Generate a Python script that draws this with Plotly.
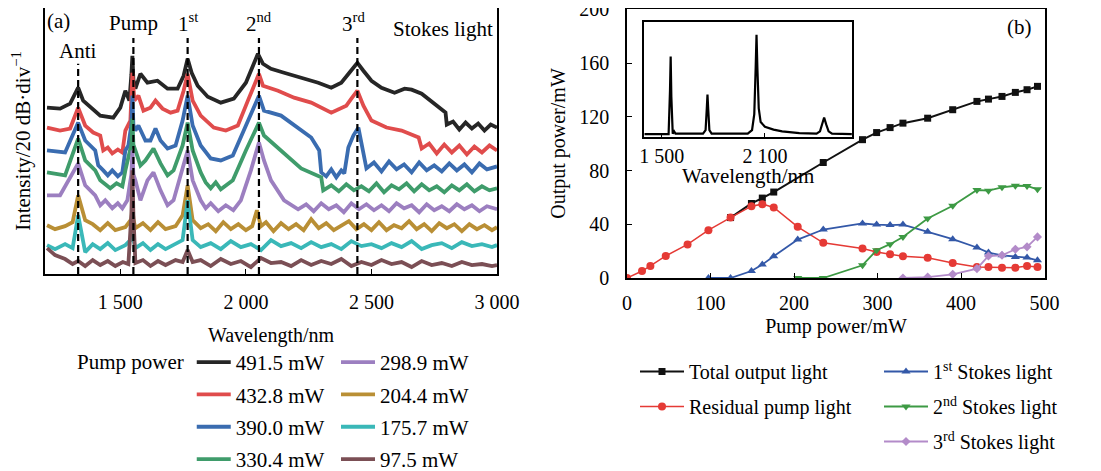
import plotly.graph_objects as go

FONT = "Liberation Serif"

# ---------------- Panel (a): spectra, (wavelength nm, offset intensity a.u.) ----------------
sp_4915 = [(1208,167),(1260,166),(1300,171),(1332,187),(1352,174),(1380,168),(1420,159),(1472,157),(1500,167),(1520,184),(1536,174),(1544,200),(1548,219),(1552,195),(1560,186),(1580,201),(1608,192),(1648,194),(1688,186),(1728,186),(1752,199),(1768,216),(1784,202),(1808,189),(1848,178),(1900,172),(1952,176),(2000,192),(2028,209),(2048,221),(2068,211),(2100,206),(2152,202),(2220,197),(2288,192),(2340,187),(2380,192),(2412,202),(2444,212),(2468,204),(2500,194),(2540,187),(2592,182),(2632,186),(2660,185),(2700,181),(2752,171),(2795,162),(2800,150),(2825,153),(2850,145),(2875,152),(2900,146),(2925,151),(2950,144),(2975,150),(3000,147)]

sp_4328 = [(1208,147),(1260,144),(1300,146),(1332,167),(1360,149),(1392,142),(1420,139),(1432,124),(1450,127),(1468,121),(1490,125),(1508,122),(1520,144),(1540,154),(1548,202),(1556,174),(1572,179),(1592,164),(1620,167),(1640,174),(1668,166),(1700,162),(1728,164),(1752,184),(1768,201),(1788,174),(1820,159),(1872,147),(1920,144),(1968,149),(2008,174),(2032,189),(2052,201),(2068,189),(2128,184),(2192,177),(2260,172),(2340,162),(2400,169),(2420,176),(2444,184),(2468,169),(2500,154),(2560,147),(2620,144),(2688,137),(2700,126),(2730,131),(2760,121),(2790,130),(2820,122),(2850,129),(2880,120),(2910,128),(2940,122),(2970,129),(3000,124)]

sp_3900 = [(1208,124),(1280,122),(1332,152),(1360,134),(1400,124),(1412,109),(1432,104),(1450,99),(1468,104),(1490,98),(1508,102),(1520,124),(1532,129),(1544,150),(1548,179),(1552,150),(1560,144),(1572,149),(1600,134),(1620,134),(1640,146),(1660,134),(1688,126),(1720,129),(1748,154),(1768,179),(1788,149),(1820,129),(1860,116),(1900,114),(1948,119),(2000,149),(2028,164),(2052,179),(2072,164),(2140,159),(2260,137),(2292,124),(2300,102),(2320,98),(2340,105),(2360,97),(2380,104),(2392,101),(2408,127),(2428,139),(2448,147),(2468,124),(2480,106),(2510,112),(2540,103),(2570,113),(2600,105),(2630,110),(2660,102),(2690,112),(2720,104),(2750,109),(2780,103),(2810,111),(2840,104),(2870,110),(2900,102),(2930,111),(2960,105),(3000,108)]

sp_3304 = [(1208,102),(1280,99),(1332,136),(1360,114),(1400,104),(1420,94),(1440,90),(1460,86),(1485,91),(1508,88),(1520,104),(1544,130),(1548,156),(1552,130),(1560,124),(1580,109),(1600,114),(1632,126),(1660,111),(1688,99),(1712,104),(1748,129),(1768,152),(1788,124),(1820,102),(1840,92),(1860,86),(1880,92),(1900,85),(1948,94),(2000,124),(2028,139),(2052,152),(2072,139),(2140,124),(2220,106),(2300,97),(2308,84),(2340,89),(2370,83),(2400,90),(2430,84),(2460,88),(2490,83),(2520,91),(2550,82),(2580,89),(2610,85),(2640,91),(2670,83),(2700,90),(2730,84),(2760,88),(2790,82),(2820,89),(2850,84),(2880,90),(2910,83),(2940,88),(2970,84),(3000,86)]

sp_2989 = [(1208,79),(1260,79),(1332,111),(1360,89),(1400,79),(1420,69),(1440,74),(1468,66),(1490,71),(1508,66),(1528,74),(1544,100),(1548,124),(1552,100),(1560,94),(1580,74),(1608,94),(1632,102),(1660,84),(1688,69),(1712,74),(1740,99),(1768,124),(1788,94),(1820,74),(1840,66),(1860,71),(1890,63),(1920,69),(1950,64),(1980,74),(2020,104),(2052,132),(2072,114),(2100,94),(2152,74),(2180,70),(2208,65),(2240,70),(2270,63),(2300,71),(2330,65),(2360,69),(2390,62),(2420,71),(2450,65),(2480,70),(2510,64),(2540,69),(2570,63),(2600,71),(2630,66),(2660,69),(2690,62),(2720,70),(2750,64),(2780,68),(2810,63),(2840,70),(2870,65),(2900,69),(2930,63),(2960,68),(3000,65)]

sp_2044 = [(1208,49),(1240,45),(1280,48),(1310,52),(1332,79),(1360,54),(1390,50),(1420,44),(1450,51),(1480,44),(1520,47),(1544,55),(1548,69),(1552,55),(1560,46),(1590,51),(1620,44),(1650,52),(1680,45),(1720,48),(1748,59),(1768,89),(1788,54),(1820,46),(1850,50),(1880,43),(1910,52),(1940,45),(1970,50),(2000,44),(2025,48),(2044,64),(2060,48),(2080,52),(2110,43),(2140,51),(2170,45),(2200,50),(2230,44),(2260,55),(2290,46),(2320,51),(2350,44),(2380,48),(2410,53),(2440,45),(2470,50),(2500,44),(2530,52),(2560,44),(2590,49),(2620,46),(2650,53),(2680,45),(2710,50),(2740,43),(2770,51),(2800,46),(2830,50),(2860,43),(2890,50),(2920,45),(2950,49),(2980,44),(3000,47)]

sp_1757 = [(1208,29),(1240,25),(1280,30),(1310,26),(1332,59),(1348,39),(1360,22),(1390,30),(1420,25),(1450,31),(1480,24),(1520,29),(1544,35),(1548,49),(1552,35),(1560,26),(1590,31),(1620,24),(1650,30),(1680,25),(1720,30),(1748,34),(1768,74),(1788,34),(1820,27),(1860,31),(1900,25),(1940,33),(1980,27),(2020,30),(2060,24),(2100,34),(2140,28),(2180,31),(2220,26),(2260,32),(2300,27),(2340,30),(2380,25),(2420,33),(2460,28),(2500,30),(2540,26),(2580,31),(2620,27),(2660,33),(2700,25),(2740,29),(2780,31),(2820,26),(2860,32),(2900,28),(2940,30),(2980,27),(3000,29)]

sp_975 = [(1208,26),(1240,19),(1280,15),(1310,10),(1332,13),(1360,8),(1390,14),(1420,9),(1450,13),(1480,8),(1510,12),(1532,10),(1544,60),(1548,104),(1552,60),(1560,11),(1590,14),(1620,8),(1650,13),(1680,9),(1720,14),(1748,12),(1768,24),(1788,12),(1820,14),(1860,8),(1900,15),(1940,10),(1980,13),(2020,7),(2060,16),(2100,11),(2140,12),(2180,8),(2220,14),(2260,9),(2300,13),(2340,10),(2380,15),(2420,8),(2460,12),(2500,9),(2540,14),(2580,10),(2620,12),(2660,7),(2700,13),(2740,9),(2780,11),(2820,8),(2860,12),(2900,9),(2940,10),(2980,8),(3000,9)]

spectra_labels = ["491.5 mW", "432.8 mW", "390.0 mW", "330.4 mW",
                  "298.9 mW", "204.4 mW", "175.7 mW", "97.5 mW"]
spectra_colors = ["#262626", "#e04c4c", "#3a6cb0", "#3f9c6b",
                  "#9c7fc0", "#b98f35", "#3ab8b8", "#7b4f55"]
spectra = [sp_4915, sp_4328, sp_3900, sp_3304, sp_2989, sp_2044, sp_1757, sp_975]

# marker lines (nm) and their top heights
line_wl = [1332, 1552, 1768, 2052, 2444]
line_top = [211, 237, 237, 237, 237]

# ---------------- Panel (b): output powers vs pump power ----------------
pump_total = [124, 149, 162, 175.7, 235, 282, 298.9, 315, 330.4, 360, 390.0, 419, 432.8, 449, 465, 479, 491.5]
total_out = [45, 55.5, 59.5, 64, 86, 103, 108.3, 112, 115.3, 119, 125.3, 131.5, 133.2, 135.2, 138.2, 140.2, 142.7]

pump_res = [0, 18, 28, 46.4, 72.5, 97.5, 124, 149, 162, 175.7, 204.4, 235, 282, 298.9, 315, 330.4, 360, 390.0, 419, 432.8, 449, 465, 479, 491.5]
residual = [0, 5.2, 9, 16.4, 25, 35.6, 45, 53.5, 55, 52.5, 38.1, 26.2, 22, 19.4, 17.7, 16.2, 15, 11.2, 8.2, 8.2, 7.7, 7.7, 9, 8.2]

pump_s1 = [97.5, 124, 149, 162, 175.7, 204.4, 235, 282, 298.9, 315, 330.4, 360, 390.0, 419, 432.8, 449, 465, 479, 491.5]
stokes1 = [0, 0, 5.2, 10, 16.2, 28.6, 36.1, 40.6, 39.8, 39.4, 39.8, 34.4, 28.9, 22.7, 18.9, 16.9, 15.7, 15.2, 13.2]

pump_s2 = [204.4, 235, 282, 298.9, 315, 330.4, 360, 390.0, 419, 432.8, 449, 465, 479, 491.5]
stokes2 = [0, 0, 9.5, 20.7, 25.2, 30.6, 44.3, 53.8, 65.5, 65, 67.5, 68.7, 68.5, 66]

pump_s3 = [330.4, 360, 390.0, 419, 432.8, 449, 465, 479, 491.5]
stokes3 = [0, 0.7, 2.7, 7, 16.4, 16.9, 21.4, 23.2, 30.6]

# inset spectrum (normalised)
inset_wl = [1400, 1540, 1548, 1552, 1556, 1564, 1572, 1580, 1740, 1755, 1762, 1766, 1770, 1777, 1790, 2000, 2025, 2038, 2046, 2051, 2056, 2064, 2075, 2100, 2150, 2200, 2300, 2400, 2420, 2432, 2444, 2456, 2470, 2490, 2605]
inset_int = [0.025, 0.025, 0.40, 0.70, 0.35, 0.03, 0.05, 0.03, 0.03, 0.06, 0.25, 0.37, 0.25, 0.06, 0.03, 0.03, 0.06, 0.20, 0.6, 0.89, 0.6, 0.25, 0.13, 0.09, 0.065, 0.05, 0.035, 0.03, 0.05, 0.11, 0.17, 0.11, 0.05, 0.03, 0.025]

fig = go.Figure()

for i, (lab, col, sp) in enumerate(zip(spectra_labels, spectra_colors, spectra)):
    xw = [p[0] for p in sp]
    yi = [p[1] for p in sp]
    fig.add_trace(go.Scatter(
        x=xw, y=yi, mode="lines", name=lab,
        line=dict(color=col, width=3.8),
        legend="legend" if i < 4 else "legend2", legendgroup=lab,
        xaxis="x", yaxis="y"))

for xv, top in zip(line_wl, line_top):
    fig.add_trace(go.Scatter(
        x=[xv, xv], y=[0, top], mode="lines", showlegend=False,
        line=dict(color="black", width=2.2, dash="7px,4px"),
        xaxis="x", yaxis="y"))

series_b = [
    ("Total output light", pump_total, total_out, "#111111", "square", 7, 2.0, "legend3"),
    ("Residual pump light", pump_res, residual, "#e53a35", "circle", 8, 1.5, "legend3"),
    ("1<sup>st</sup> Stokes light", pump_s1, stokes1, "#3358a8", "triangle-up", 8, 1.8, "legend4"),
    ("2<sup>nd</sup> Stokes light", pump_s2, stokes2, "#3d9a44", "triangle-down", 8, 1.8, "legend4"),
    ("3<sup>rd</sup> Stokes light", pump_s3, stokes3, "#b38bc9", "diamond", 7, 1.8, "legend4"),
]
for name, xs, ys, col, sym, msz, lw, lg in series_b:
    fig.add_trace(go.Scatter(
        x=xs, y=ys, mode="lines+markers", name=name,
        line=dict(color=col, width=lw),
        marker=dict(symbol=sym, size=msz, color=col),
        legend=lg, legendgroup=name, xaxis="x2", yaxis="y2"))

fig.add_trace(go.Scatter(
    x=inset_wl, y=inset_int, mode="lines", showlegend=False,
    line=dict(color="black", width=2.2), xaxis="x3", yaxis="y3"))

axis_common = dict(showline=True, mirror=True, linecolor="black", linewidth=1.5,
                   showgrid=False, zeroline=False, color="black", automargin=False,
                   ticklabeloverflow="allow")

fig.update_layout(
    width=1101, height=471,
    margin=dict(l=37, r=64, t=0, b=201, autoexpand=False),
    paper_bgcolor="white", plot_bgcolor="white",
    font=dict(family=FONT, size=20, color="black"),
    xaxis=dict(domain=[0, 0.452], range=[1200, 3000], anchor="y",
               tickvals=[1500, 2000, 2500, 3000],
               ticktext=["1 500", "2 000", "2 500", "3 000"],
               ticks="inside", ticklen=5, ticklabelstandoff=9,
               tickfont=dict(size=20),
               title=dict(text="Wavelength/nm", standoff=16, font=dict(size=20)),
               **axis_common),
    yaxis=dict(domain=[0.0148, 1], range=[0, 267], anchor="x",
               showticklabels=False, ticks="",
               title=dict(text="Intensity/20 dB·div<sup>−1</sup>", standoff=8, font=dict(size=21)),
               **axis_common),
    xaxis2=dict(domain=[0.582, 1.0], range=[0, 500.5], anchor="y2",
                tickvals=[0, 100, 200, 300, 400, 500],
                ticks="inside", ticklen=5, ticklabelstandoff=6,
                tickfont=dict(size=20),
                title=dict(text="Pump power/mW", standoff=6, font=dict(size=20)),
                **axis_common),
    yaxis2=dict(domain=[0, 0.9963], range=[0, 200.3], anchor="x2",
                tickvals=[0, 40, 80, 120, 160, 200],
                ticks="inside", ticklen=5, ticklabelstandoff=12,
                tickfont=dict(size=20),
                title=dict(text="Output power/mW", standoff=8, font=dict(size=20)),
                **axis_common),
    xaxis3=dict(domain=[0.599, 0.807], range=[1397, 2606], anchor="y3",
                tickvals=[1500, 2100], ticktext=["1 500", "2 100"],
                ticks="inside", ticklen=4, ticklabelstandoff=0,
                tickfont=dict(size=20),
                **axis_common),
    yaxis3=dict(domain=[0.522, 0.948], range=[0, 1], anchor="x3",
                showticklabels=False, ticks="", **axis_common),
    legend=dict(x=0.03, xanchor="left", y=-0.237, yanchor="top",
                title=dict(text="Pump power", side="left", font=dict(size=21)),
                font=dict(size=21), traceorder="grouped", tracegroupgap=2,
                itemwidth=34, bgcolor="rgba(0,0,0,0)"),
    legend2=dict(x=0.291, xanchor="left", y=-0.237, yanchor="top",
                 font=dict(size=21), traceorder="grouped", tracegroupgap=2,
                 itemwidth=34, bgcolor="rgba(0,0,0,0)"),
    legend3=dict(x=0.590, xanchor="left", y=-0.274, yanchor="top",
                 font=dict(size=20), traceorder="grouped", tracegroupgap=6,
                 itemwidth=44, bgcolor="rgba(0,0,0,0)"),
    legend4=dict(x=0.834, xanchor="left", y=-0.274, yanchor="top",
                 font=dict(size=20), traceorder="grouped", tracegroupgap=6,
                 itemwidth=44, bgcolor="rgba(0,0,0,0)"),
    showlegend=True,
)

ann = [
    dict(text="(a)", x=1252, y=254, xref="x", yref="y", xanchor="center"),
    dict(text="Anti", x=1332, y=224, xref="x", yref="y", xanchor="center"),
    dict(text="Pump", x=1552, y=252, xref="x", yref="y", xanchor="center"),
    dict(text="1<sup>st</sup>", x=1768, y=252, xref="x", yref="y", xanchor="center"),
    dict(text="2<sup>nd</sup>", x=2052, y=252, xref="x", yref="y", xanchor="center"),
    dict(text="3<sup>rd</sup>", x=2430, y=252, xref="x", yref="y", xanchor="center"),
    dict(text="Stokes light", x=2994, y=246, xref="x", yref="y", xanchor="right"),
    dict(text="(b)", x=470, y=187, xref="x2", yref="y2", xanchor="center"),
    dict(text="Wavelength/nm", x=0.703, y=0.378, xref="paper", yref="paper", xanchor="center"),
]
for a in ann:
    fig.add_annotation(showarrow=False, yanchor="middle", font=dict(size=21, family=FONT), **a)

fig.write_html("out.html")
